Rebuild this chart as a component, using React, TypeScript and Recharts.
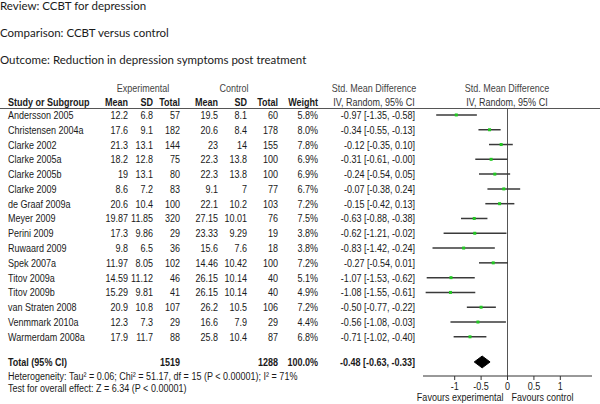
import React from "react";
import { ComposedChart, Scatter, ErrorBar, Area, XAxis, YAxis, ReferenceLine } from "recharts";

// study rows
const studies = [
  "Andersson 2005", "Christensen 2004a", "Clarke 2002", "Clarke 2005a", "Clarke 2005b",
  "Clarke 2009", "de Graaf 2009a", "Meyer 2009", "Perini 2009", "Ruwaard 2009",
  "Spek 2007a", "Titov 2009a", "Titov 2009b", "van Straten 2008", "Venmmark 2010a",
  "Warmerdam 2008a",
];
const expMean = [12.2, 17.6, 21.3, 18.2, 19, 8.6, 20.6, 19.87, 17.3, 9.8, 11.97, 14.59, 15.29, 20.9, 12.3, 17.9];
const expSD = [6.8, 9.1, 13.1, 12.8, 13.1, 7.2, 10.4, 11.85, 9.86, 6.5, 8.05, 11.12, 9.81, 10.8, 7.3, 11.7];
const expTotal = [57, 182, 144, 75, 80, 83, 100, 320, 29, 36, 102, 46, 41, 107, 29, 88];
const ctlMean = [19.5, 20.6, 23, 22.3, 22.3, 9.1, 22.1, 27.15, 23.33, 15.6, 14.46, 26.15, 26.15, 26.2, 16.6, 25.8];
const ctlSD = [8.1, 8.4, 14, 13.8, 13.8, 7, 10.2, 10.01, 9.29, 7.6, 10.42, 10.14, 10.14, 10.5, 7.9, 10.4];
const ctlTotal = [60, 178, 155, 100, 100, 77, 103, 76, 19, 18, 100, 40, 40, 106, 29, 87];
const weights = [5.8, 8.0, 7.8, 6.9, 6.9, 6.7, 7.2, 7.5, 3.8, 3.8, 7.2, 5.1, 4.9, 7.2, 4.4, 6.8];
const smd = [-0.97, -0.34, -0.12, -0.31, -0.24, -0.07, -0.15, -0.63, -0.62, -0.83, -0.27, -1.07, -1.08, -0.5, -0.56, -0.71];
const ciLow = [-1.35, -0.55, -0.35, -0.61, -0.54, -0.38, -0.42, -0.88, -1.21, -1.42, -0.54, -1.53, -1.55, -0.77, -1.08, -1.02];
const ciHigh = [-0.58, -0.13, 0.1, -0.0, 0.05, 0.24, 0.13, -0.38, -0.02, -0.24, 0.01, -0.62, -0.61, -0.22, -0.03, -0.4];

const totalExp = 1519;
const totalCtl = 1288;
const totalWeight = 100.0;
const totalSmd = -0.48;
const totalLow = -0.63;
const totalHigh = -0.33;

const xTicks = [-1, -0.5, 0, 0.5, 1];
const xTickLabels = ["-1", "-0.5", "0", "0.5", "1"];

// layout
const TOTAL_ROW = 16.7;
const DIAMOND_HALF = 0.4;
const TABLE_FONT = '"Liberation Sans", Arial, sans-serif';
const SQUEEZE = 0.82; // Arial -> Arial Narrow look
const TITLE_FONT = 'Lato, "Open Sans", sans-serif';
const TEXT = "#1a1a1a";
const COLS = { study: 8, expMean: 128, expSD: 153, expTotal: 180, ctlMean: 218, ctlSD: 247, ctlTotal: 278, weight: 318, ci: 415 };

const fmt = (v: number) => (v < 0 || Object.is(v, -0) ? "-" : "") + Math.abs(v).toFixed(2);
const ciText = (m: number, lo: number, hi: number) => `${fmt(m)} [${fmt(lo)}, ${fmt(hi)}]`;

const rows = studies.map((s, i) => ({
  x: smd[i],
  y: i,
  err: [smd[i] - ciLow[i], ciHigh[i] - smd[i]],
}));

const diamond = [
  { x: totalLow, band: [TOTAL_ROW, TOTAL_ROW] },
  { x: totalSmd, band: [TOTAL_ROW - DIAMOND_HALF, TOTAL_ROW + DIAMOND_HALF] },
  { x: totalHigh, band: [TOTAL_ROW, TOTAL_ROW] },
];

const yTicks = [...studies.map((_, i) => i), TOTAL_ROW];

// narrow text: Liberation Sans squeezed horizontally
const NText = ({ x, y, anchor = "start", bold = false, color = TEXT, children }: any) => (
  <text
    transform={`translate(${x},${y}) scale(${SQUEEZE},1)`}
    textAnchor={anchor}
    fontFamily={TABLE_FONT}
    fontSize={11}
    fontWeight={bold ? "bold" : "normal"}
    fill={color}
  >
    {children}
  </text>
);

const RowTick = (props: any) => {
  const { y, payload } = props;
  const v = payload.value;
  const by = y + 4;
  if (v === TOTAL_ROW) {
    return (
      <g>
        <NText x={COLS.study} y={by} bold>Total (95% CI)</NText>
        <NText x={COLS.expTotal} y={by} anchor="end" bold>{totalExp}</NText>
        <NText x={COLS.ctlTotal} y={by} anchor="end" bold>{totalCtl}</NText>
        <NText x={COLS.weight} y={by} anchor="end" bold>{totalWeight.toFixed(1) + "%"}</NText>
        <NText x={COLS.ci} y={by} anchor="end" bold>{ciText(totalSmd, totalLow, totalHigh)}</NText>
      </g>
    );
  }
  const i = v;
  return (
    <g>
      <NText x={COLS.study} y={by}>{studies[i]}</NText>
      <NText x={COLS.expMean} y={by} anchor="end">{String(expMean[i])}</NText>
      <NText x={COLS.expSD} y={by} anchor="end">{String(expSD[i])}</NText>
      <NText x={COLS.expTotal} y={by} anchor="end">{expTotal[i]}</NText>
      <NText x={COLS.ctlMean} y={by} anchor="end">{String(ctlMean[i])}</NText>
      <NText x={COLS.ctlSD} y={by} anchor="end">{String(ctlSD[i])}</NText>
      <NText x={COLS.ctlTotal} y={by} anchor="end">{ctlTotal[i]}</NText>
      <NText x={COLS.weight} y={by} anchor="end">{weights[i].toFixed(1) + "%"}</NText>
      <NText x={COLS.ci} y={by} anchor="end">{ciText(smd[i], ciLow[i], ciHigh[i])}</NText>
    </g>
  );
};

const XTick = (props: any) => {
  const { x, y, payload } = props;
  const label = xTickLabels[xTicks.indexOf(payload.value)];
  return (
    <g>
      <NText x={x} y={y + 8} anchor="middle">{label}</NText>
      {payload.value === 0 && (
        <>
          <NText x={x - 4} y={y + 19} anchor="end">Favours experimental</NText>
          <NText x={x + 4} y={y + 19}>Favours control</NText>
        </>
      )}
    </g>
  );
};

const Square = (p: any) => <rect x={p.cx - 1.5} y={p.cy - 1.5} width={3} height={3} fill="#22c922" />;

export default function App() {
  return (
    <div style={{ position: "absolute", left: 0, top: 0, width: 600, height: 404, background: "#fff", overflow: "hidden" }}>
      <ComposedChart width={600} height={404} margin={{ top: 108, right: 8, bottom: 0, left: 0 }}>
        <XAxis
          type="number"
          dataKey="x"
          domain={[-1.6, 1.6]}
          ticks={xTicks}
          interval={0}
          allowDataOverflow
          height={28}
          tickSize={4}
          stroke="#333"
          tick={<XTick />}
        />
        <YAxis
          type="number"
          dataKey="y"
          domain={[-0.47, 17.65]}
          reversed
          ticks={yTicks}
          interval={0}
          allowDataOverflow
          width={423}
          axisLine={false}
          tickLine={false}
          tick={<RowTick />}
        />
        <ReferenceLine x={0} stroke="#555" />
        <Area
          data={diamond}
          dataKey="band"
          type="linear"
          stroke="#000"
          fill="#000"
          fillOpacity={1}
          dot={false}
          activeDot={false}
          isAnimationActive={false}
        />
        <Scatter data={rows} shape={<Square />} isAnimationActive={false}>
          <ErrorBar dataKey="err" direction="x" width={0} stroke="#3a3a3a" strokeWidth={1.5} isAnimationActive={false} />
        </Scatter>
      </ComposedChart>
      <svg width={600} height={404} style={{ position: "absolute", left: 0, top: 0, pointerEvents: "none" }}>
        <g fontFamily={TITLE_FONT} fontSize={11.5} fill={TEXT}>
          <text x={0} y={10}>Review: CCBT for depression</text>
          <text x={0} y={37}>Comparison: CCBT versus control</text>
          <text x={0} y={64}>Outcome: Reduction in depression symptoms post treatment</text>
        </g>
        <NText x={143} y={92} anchor="middle" color="#444">Experimental</NText>
        <NText x={234} y={92} anchor="middle" color="#444">Control</NText>
        <NText x={374} y={92} anchor="middle" color="#444">Std. Mean Difference</NText>
        <NText x={507} y={92} anchor="middle" color="#444">Std. Mean Difference</NText>
        <NText x={COLS.study} y={106} bold>Study or Subgroup</NText>
        <NText x={COLS.expMean} y={106} anchor="end" bold>Mean</NText>
        <NText x={COLS.expSD} y={106} anchor="end" bold>SD</NText>
        <NText x={COLS.expTotal} y={106} anchor="end" bold>Total</NText>
        <NText x={COLS.ctlMean} y={106} anchor="end" bold>Mean</NText>
        <NText x={COLS.ctlSD} y={106} anchor="end" bold>SD</NText>
        <NText x={COLS.ctlTotal} y={106} anchor="end" bold>Total</NText>
        <NText x={COLS.weight} y={106} anchor="end" bold>Weight</NText>
        <NText x={374} y={106} anchor="middle" color="#333">IV, Random, 95% CI</NText>
        <NText x={507} y={106} anchor="middle" color="#333">IV, Random, 95% CI</NText>
        <line x1={0} x2={600} y1={108.5} y2={108.5} stroke="#555" strokeWidth={1} />
        <NText x={COLS.study} y={380}>Heterogeneity: Tau² = 0.06; Chi² = 51.17, df = 15 (P &lt; 0.00001); I² = 71%</NText>
        <NText x={COLS.study} y={392}>Test for overall effect: Z = 6.34 (P &lt; 0.00001)</NText>
      </svg>
    </div>
  );
}
